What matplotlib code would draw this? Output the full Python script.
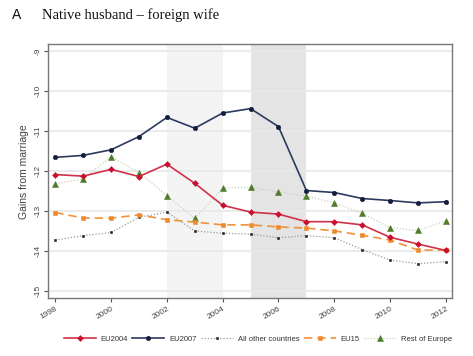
import matplotlib
matplotlib.use("Agg")
import matplotlib.pyplot as plt

years = list(range(1998, 2013))
eu2004 = [-12.09, -12.13, -11.96, -12.14, -11.83, -12.31, -12.86, -13.03, -13.08, -13.27, -13.27, -13.35, -13.66, -13.83, -13.99]
eu2007 = [-11.66, -11.61, -11.47, -11.14, -10.66, -10.93, -10.55, -10.44, -10.89, -12.49, -12.54, -12.69, -12.74, -12.80, -12.77]
all_other = [-13.73, -13.62, -13.54, -13.16, -13.03, -13.50, -13.56, -13.58, -13.67, -13.62, -13.67, -13.97, -14.23, -14.32, -14.27]
eu15 = [-13.04, -13.18, -13.18, -13.10, -13.22, -13.28, -13.35, -13.35, -13.40, -13.43, -13.50, -13.61, -13.73, -13.98, -13.98]
rest_europe = [-12.32, -12.20, -11.64, -12.04, -12.62, -13.19, -12.43, -12.40, -12.53, -12.63, -12.80, -13.06, -13.42, -13.49, -13.25]
yticks = [-9, -10, -11, -12, -13, -14, -15]
xticks = [1998, 2000, 2002, 2004, 2006, 2008, 2010, 2012]

plt.rcParams['font.family'] = ['Liberation Sans', 'DejaVu Sans']
fig = plt.figure(figsize=(4.73, 3.56), dpi=100)
ax = fig.add_axes([48.3/473, 1 - 298/356, (452.3-48.3)/473, (298-44.3)/356])

ax.axvspan(2002, 2004, color='#f4f4f4', zorder=0, lw=0)
ax.axvspan(2005, 2007, color='#e4e4e4', zorder=0, lw=0)
for y in yticks:
    ax.axhline(y, color='#e8e8e8', lw=1.2, zorder=0.5)

ax.plot(years, rest_europe, color='#c9d0b8', ls=(0, (1, 1.5)), lw=0.9, marker='^', ms=3.8, mew=0.4, mfc='#4f7a2a', mec='#4f7a2a', zorder=2, label='Rest of Europe')
ax.plot(years, all_other, color='#9a9a9a', ls=(0, (1, 1.5)), lw=0.9, marker='s', ms=1.8, mew=0.4, mfc='#222222', mec='#222222', zorder=2, label='All other countries')
ax.plot(years, eu15, color='#f0923a', ls=(0, (5, 3)), lw=1.2, marker='s', ms=3.2, mew=0.4, mfc='#ee8a2a', mec='#ee8a2a', zorder=3, label='EU15')
ax.plot(years, eu2004, color='#d2304a', lw=1.2, marker='D', ms=3.0, mew=0.4, mfc='#c8102e', mec='#c8102e', zorder=4, label='EU2004')
ax.plot(years, eu2007, color='#2b3a5e', lw=1.2, marker='o', ms=3.2, mew=0.4, mfc='#141d3e', mec='#141d3e', zorder=4, label='EU2007')

ax.set_xlim(1997.75, 2012.23)
ax.set_ylim(-15.18, -8.83)
ax.set_yticks(yticks)
ax.set_yticklabels([str(v) for v in yticks], rotation=90, va='center', fontsize=6)
ax.set_xticks(xticks)
ax.set_xticklabels([str(v) for v in xticks], rotation=30, ha='right', fontsize=6, rotation_mode='anchor')
ax.tick_params(axis='both', length=3, width=0.8, color='#555555', labelcolor='#444444', pad=2)
for s in ax.spines.values():
    s.set_color('#777777')
    s.set_linewidth(1.0)
ax.set_ylabel('Gains from marriage', fontsize=7.5, color='#444444', labelpad=4)

fig.text(12/473, 1 - 15/356, 'A', fontsize=10, va='center', ha='left', color='#111111')
fig.text(42/473, 1 - 15/356, 'Native husband \u2013 foreign wife', fontsize=10.5, va='center', ha='left',
         family=['Liberation Serif', 'DejaVu Serif'], color='#111111')

handles, labels = ax.get_legend_handles_labels()
order = ['EU2004', 'EU2007', 'All other countries', 'EU15', 'Rest of Europe']
hmap = dict(zip(labels, handles))
leg = fig.legend([hmap[k] for k in order], order, loc='center', bbox_to_anchor=(0.545, 1 - 339/356), ncol=5,
                 frameon=False, fontsize=5.5, handlelength=4.2, columnspacing=0.6, handletextpad=0.6, borderpad=0)
for t in leg.get_texts():
    t.set_color('#333333')

fig.savefig('out.png', dpi=100)
